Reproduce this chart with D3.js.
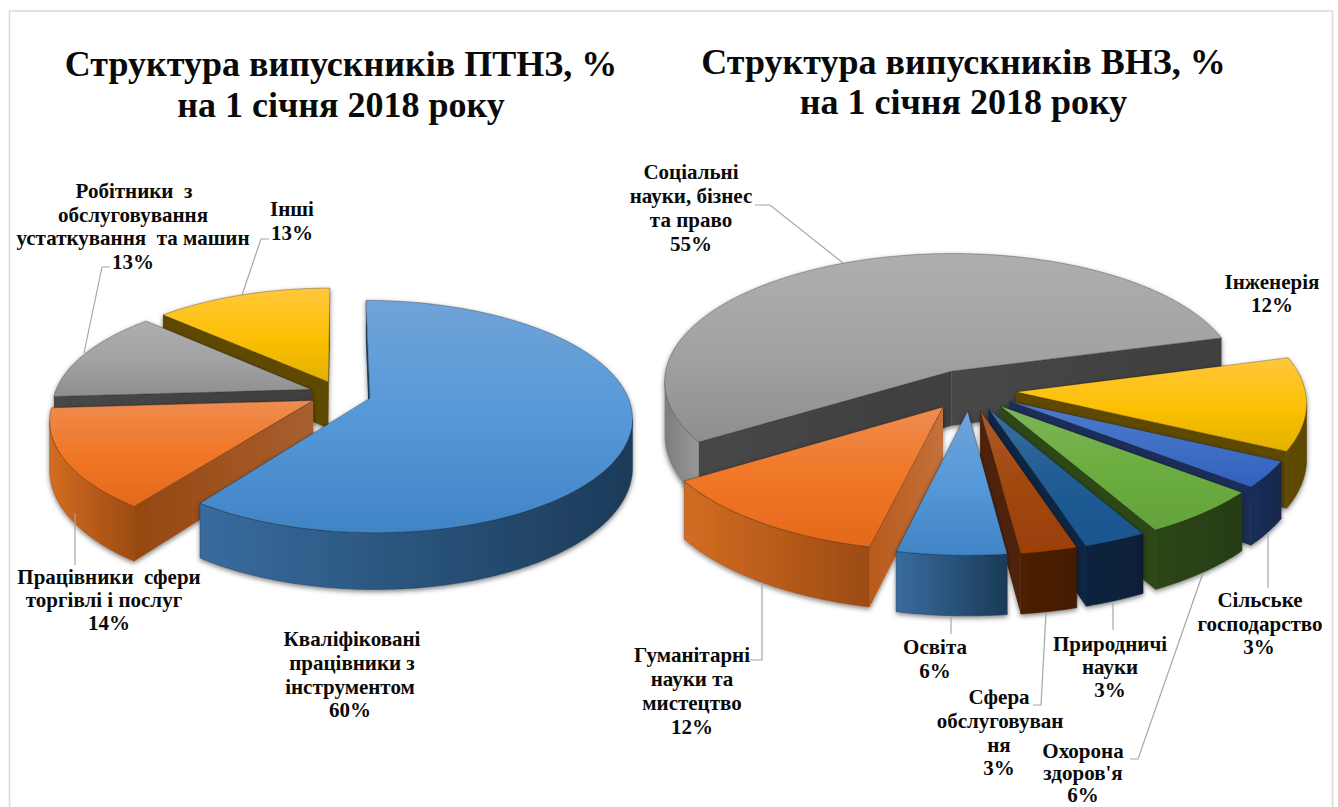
<!DOCTYPE html>
<meta charset="utf-8">
<script src="https://d3js.org/d3.v7.min.js"></script>
<style>
html, body { margin: 0; padding: 0; background: #fff; }
text { font-family: "Liberation Serif", serif; font-weight: bold; fill: #0a0a0a; }
</style>
<div id="chart"></div>
<script>
// data
const ptnzNames = ["Кваліфіковані працівники з інструментом", "Працівники сфери торгівлі і послуг", "Робітники з обслуговування устаткування та машин", "Інші"];
const ptnzValues = [60, 14, 13, 13];
const ptnzColors = ["blue", "orange", "gray", "yellow"];

// labels only give whole percents, the decimals are estimated from the slice widths
const vnzNames = ["Освіта", "Гуманітарні науки та мистецтво", "Соціальні науки, бізнес та право", "Інженерія", "Сільське господарство", "Охорона здоров'я", "Природничі науки", "Сфера обслуговування"];
const vnzValues = [5.6, 12.4, 54.6, 11.6, 3.4, 6.2, 3.2, 2.9];
const vnzColors = ["blue", "orange", "gray", "yellow", "royal", "green", "navy", "brown"];

// top: light, mid, low  wall: left, right  side: radial face
const palette = {
  blue:   {top: ["#70a3d8", "#5699d8", "#4084c6"], wall: ["#386c9e", "#1c3a58"], side: ["#1f3f5e", "#1f3f5e"]},
  orange: {top: ["#ee8c50", "#f07726", "#e4691c"], wall: ["#d36c22", "#9c4b12"], side: ["#b85a1c", "#c4713c"]},
  gray:   {top: ["#aeaeae", "#a3a3a3", "#8e8e8e"], wall: ["#7d7d7d", "#989898"], side: ["#474747", "#3f3f3f"]},
  yellow: {top: ["#ffc73c", "#fdc107", "#e3b100"], wall: ["#604b00", "#5b4700"], side: ["#5e4a00", "#5e4a00"]},
  royal:  {top: ["#4d7acb", "#4070c6", "#3260bd"], wall: ["#182f5a", "#142849"], side: ["#1a2f58", "#1a2f58"]},
  green:  {top: ["#7db558", "#6cad40", "#63a33a"], wall: ["#2c4515", "#273d12"], side: ["#2e4719", "#2e4719"]},
  navy:   {top: ["#3b6f9f", "#215c94", "#1a5590"], wall: ["#0c2440", "#0a1f36"], side: ["#0f2844", "#0f2844"]},
  brown:  {top: ["#ae5c2a", "#a2470e", "#9b4006"], wall: ["#4d2000", "#431b00"], side: ["#4f2408", "#4f2408"]}
};

const width = 1338, height = 807;
const pct = v => Math.round(v) + "%";

const svg = d3.select("#chart").append("svg").attr("width", width).attr("height", height);
const defs = svg.append("defs");

const shadow = defs.append("filter").attr("id", "soft")
  .attr("x", "-10%").attr("y", "-10%").attr("width", "120%").attr("height", "125%");
shadow.append("feDropShadow").attr("dx", 0).attr("dy", 2).attr("stdDeviation", 2.5)
  .attr("flood-color", "#000").attr("flood-opacity", .5);

// frame of the picture
svg.append("rect").attr("x", 9.5).attr("y", 11).attr("width", 1323).attr("height", 810)
  .attr("fill", "none").attr("stroke", "#dcdcd6").attr("stroke-width", 1.6);

function addGradient(id, vertical, stops) {
  const g = defs.append("linearGradient").attr("id", id)
    .attr("x1", 0).attr("y1", 0).attr("x2", vertical ? 0 : 1).attr("y2", vertical ? 1 : 0);
  stops.forEach((c, i) => g.append("stop")
    .attr("offset", i / (stops.length - 1)).attr("stop-color", c));
}
Object.keys(palette).forEach(k => {
  addGradient("top-" + k, true, palette[k].top);
  addGradient("wall-" + k, false, palette[k].wall);
  addGradient("side-" + k, false, palette[k].side);
});
// cut face of the orange slice is darker in the left pie
addGradient("side-orange-dark", false, ["#95470f", "#a95f30"]);

const line = d3.line();

// cfg: camera of one pie. c is how strong the perspective is
function drawPie(cfg, names, values, colors) {
  const project = (X, Y, z) => {
    const p = 1 / (1 - cfg.c * Y);
    return [cfg.cx + cfg.kx * X * p, cfg.cy + (cfg.ky * Y + z) * p];
  };

  const start = cfg.start * Math.PI / 180;
  const arcs = d3.pie().sort(null).startAngle(start).endAngle(start + 2 * Math.PI)
    .value(d => d)(values);

  const g = svg.append("g");

  cfg.order.forEach(i => {
    const a = arcs[i], col = colors[i];
    const mid = (a.startAngle + a.endAngle) / 2;
    const ox = cfg.explode * Math.sin(mid), oy = -cfg.explode * Math.cos(mid);
    const rim = (t, z) => project(ox + Math.sin(t), oy - Math.cos(t), z);
    const apex = z => project(ox, oy, z);

    const n = Math.max(4, Math.ceil((a.endAngle - a.startAngle) * 90));
    const angles = d3.range(n + 1).map(j => a.startAngle + (a.endAngle - a.startAngle) * j / n);

    const sg = g.append("g").attr("filter", "url(#soft)");
    sg.append("title").text(names[i] + ": " + pct(values[i]));

    // rim wall, only the part turned to the viewer
    let run = [];
    const runs = [];
    angles.forEach((t, j) => {
      if (j > 0 && rim(t, 0)[0] < rim(angles[j - 1], 0)[0]) {
        if (!run.length) run.push(angles[j - 1]);
        run.push(t);
      } else if (run.length) { runs.push(run); run = []; }
    });
    if (run.length) runs.push(run);
    runs.forEach(r => {
      const pts = r.map(t => rim(t, 0)).concat(r.slice().reverse().map(t => rim(t, cfg.h)));
      sg.append("path").attr("d", line(pts) + "Z")
        .attr("fill", `url(#wall-${col})`)
        .attr("stroke", palette[col].wall[1]).attr("stroke-width", .5);
    });

    // the two cut faces
    const inner = rim(mid, 0);
    [a.startAngle, a.endAngle].forEach(t => {
      const p0 = apex(0), p1 = rim(t, 0);
      const side = (q) => (p1[0] - p0[0]) * (q[1] - p0[1]) - (p1[1] - p0[1]) * (q[0] - p0[0]);
      const down = [p0[0], p0[1] + 10];
      if (side(inner) * side(down) < 0) {
        const sideId = cfg.sideOverride && cfg.sideOverride[col] ? cfg.sideOverride[col] : "side-" + col;
        sg.append("path").attr("d", line([p0, p1, rim(t, cfg.h), apex(cfg.h)]) + "Z")
          .attr("fill", `url(#${sideId})`);
      }
    });

    // top face
    const topPts = [apex(0)].concat(angles.map(t => rim(t, 0)));
    sg.append("path").attr("d", line(topPts) + "Z")
      .attr("fill", `url(#top-${col})`)
      .attr("stroke", "#000").attr("stroke-opacity", .45).attr("stroke-width", .6)
      .attr("stroke-linejoin", "round");
  });
}

drawPie({cx: 340.4, cy: 394, kx: 257, ky: 112, c: .157, explode: .12, h: 47.5, start: 0, order: [3, 2, 1, 0],
  sideOverride: {orange: "side-orange-dark"}},
  ptnzNames, ptnzValues, ptnzColors);

drawPie({cx: 970, cy: 390, kx: 289, ky: 129.7, c: .078, explode: .16, h: 55, start: 172.8, order: [2, 3, 4, 5, 6, 7, 1, 0]},
  vnzNames, vnzValues, vnzColors);

// leader lines
const leaders = [
  [[269, 239], [261, 239], [242, 295]],
  [[110, 267], [102, 267], [84, 353]],
  [[75, 513], [75, 565]],
  [[755, 205], [770, 205], [843, 263]],
  [[750, 660], [762, 660], [762, 583]],
  [[951, 617], [951, 634]],
  [[1033, 705], [1041, 705], [1046, 613]],
  [[1113, 603], [1113, 630]],
  [[1268, 532], [1268, 588]],
  [[1130, 759], [1138, 759], [1203, 573]]
];
svg.append("g").selectAll("path").data(leaders).join("path")
  .attr("d", d => line(d)).attr("fill", "none")
  .attr("stroke", "#a6a6a6").attr("stroke-width", 1.2);

// titles
const titles = [
  {x: 341, y: 76, t: "Структура випускників ПТНЗ, %"},
  {x: 341, y: 117, t: "на 1 січня 2018 року"},
  {x: 963.5, y: 74, t: "Структура випускників ВНЗ, %"},
  {x: 963.5, y: 114, t: "на 1 січня 2018 року"}
];
svg.append("g").selectAll("text").data(titles).join("text")
  .attr("x", d => d.x).attr("y", d => d.y).attr("text-anchor", "middle")
  .attr("font-size", 36).text(d => d.t);

// slice labels, one line each
const labels = [
  [134, 198, "Робітники  з"], [133, 222, "обслуговування"], [133, 245, "устаткування  та машин"], [133, 269, pct(ptnzValues[2])],
  [292, 216, "Інші"], [292, 240, pct(ptnzValues[3])],
  [109, 584, "Працівники  сфери"], [104, 607, "торгівлі і послуг"], [109, 630, pct(ptnzValues[1])],
  [352, 646, "Кваліфіковані"], [352, 670, "працівники з"], [350, 694, "інструментом"], [350, 717, pct(ptnzValues[0])],
  [691, 179, "Соціальні"], [691, 203, "науки, бізнес"], [691, 227, "та право"], [691, 251, pct(vnzValues[2])],
  [1272, 289, "Інженерія"], [1272, 312, pct(vnzValues[3])],
  [1260, 607, "Сільське"], [1260, 631, "господарство"], [1259, 654, pct(vnzValues[4])],
  [1110, 651, "Природничі"], [1110, 674, "науки"], [1110, 697, pct(vnzValues[6])],
  [935, 654, "Освіта"], [935, 678, pct(vnzValues[0])],
  [692, 662, "Гуманітарні"], [692, 686, "науки та"], [692, 710, "мистецтво"], [692, 734, pct(vnzValues[1])],
  [999, 704, "Сфера"], [1000, 728, "обслуговуван"], [999, 752, "ня"], [999, 775, pct(vnzValues[7])],
  [1083, 758, "Охорона"], [1083, 780, "здоров'я"], [1083, 802, pct(vnzValues[5])]
];
svg.append("g").selectAll("text").data(labels).join("text")
  .attr("x", d => d[0]).attr("y", d => d[1]).attr("text-anchor", "middle")
  .attr("font-size", 21).style("white-space", "pre")
  .text(d => d[2]);
</script>
